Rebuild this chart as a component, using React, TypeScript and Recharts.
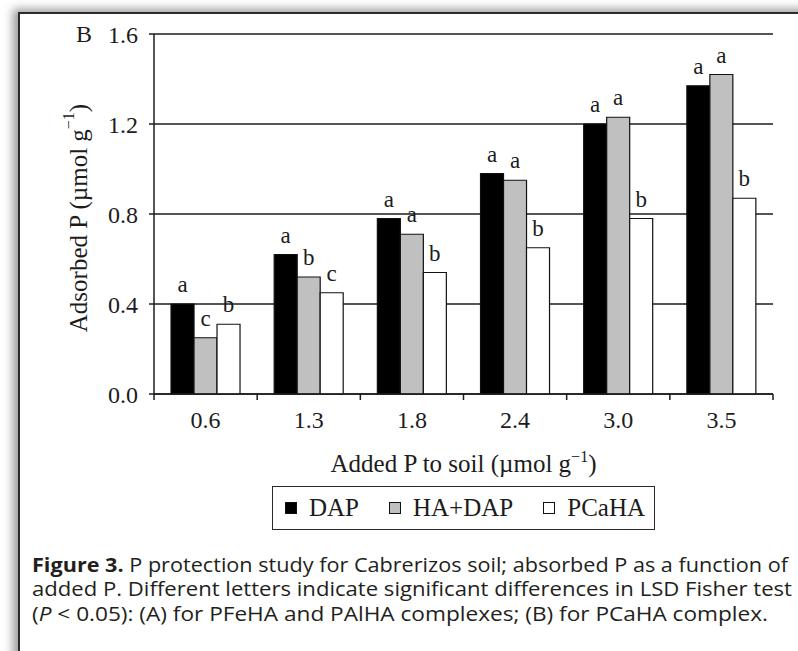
import { Bar, BarChart, CartesianGrid, Label, LabelList, Legend, XAxis, YAxis } from 'recharts';

const categories = ['0.6', '1.3', '1.8', '2.4', '3.0', '3.5'];
const dapValues = [0.4, 0.62, 0.78, 0.98, 1.2, 1.37];
const haDapValues = [0.25, 0.52, 0.71, 0.95, 1.23, 1.42];
const pcahaValues = [0.31, 0.45, 0.54, 0.65, 0.78, 0.87];
const dapLetters = ['a', 'a', 'a', 'a', 'a', 'a'];
const haDapLetters = ['c', 'b', 'a', 'a', 'a', 'a'];
const pcahaLetters = ['b', 'c', 'b', 'b', 'b', 'b'];
const yTicks = [0, 0.4, 0.8, 1.2, 1.6];

const data = categories.map((added, i) => ({
  added,
  dap: dapValues[i],
  haDap: haDapValues[i],
  pcaha: pcahaValues[i],
  dapLetter: dapLetters[i],
  haDapLetter: haDapLetters[i],
  pcahaLetter: pcahaLetters[i],
}));

const SERIF = '"Liberation Serif", "Times New Roman", serif';
const INK = '#1c1c1c';

// category label in the middle, tick marks on the group edges
function CategoryTick(props: any) {
  const { x, y, payload, index, visibleTicksCount, width } = props;
  const half = payload?.offset || width / visibleTicksCount / 2;
  const last = index === visibleTicksCount - 1;
  return (
    <g>
      <line x1={x - half} x2={x - half} y1={y} y2={y + 6} stroke={INK} strokeWidth={1.5} />
      {last && <line x1={x + half} x2={x + half} y1={y} y2={y + 6} stroke={INK} strokeWidth={1.5} />}
      <text x={x} y={y + 17} dy="0.71em" textAnchor="middle" fontFamily={SERIF} fontSize={24} fill={INK}>
        {payload.value}
      </text>
    </g>
  );
}

function YTitle({ viewBox }: any) {
  const cx = viewBox.x - 16;
  const cy = viewBox.y + viewBox.height / 2 + 4;
  return (
    <text
      x={cx}
      y={cy}
      transform={`rotate(-90, ${cx}, ${cy})`}
      textAnchor="middle"
      dominantBaseline="central"
      fontFamily={SERIF}
      fontSize={25}
      fill={INK}
    >
      Adsorbed P (µmol g
      <tspan dy={-10} fontSize={16}>−1</tspan>
      <tspan dy={10}>)</tspan>
    </text>
  );
}

function XTitle({ viewBox }: any) {
  return (
    <text
      x={viewBox.x + viewBox.width / 2}
      y={viewBox.y + 78}
      textAnchor="middle"
      fontFamily={SERIF}
      fontSize={25}
      fill={INK}
    >
      Added P to soil (µmol g
      <tspan dy={-10} fontSize={16}>−1</tspan>
      <tspan dy={10}>)</tspan>
    </text>
  );
}

function LegendBox({ payload }: any) {
  return (
    <div
      style={{
        boxSizing: 'border-box',
        width: 383,
        height: 44,
        border: '1.5px solid #2a2a2a',
        display: 'flex',
        alignItems: 'center',
        paddingLeft: 12,
        fontFamily: SERIF,
        fontSize: 25,
        color: INK,
        background: '#fff',
      }}
    >
      {(payload || []).map((entry: any) => (
        <span key={entry.value} style={{ display: 'flex', alignItems: 'center', marginRight: 30 }}>
          <span
            style={{
              display: 'inline-block',
              width: 10,
              height: 10,
              border: '1.5px solid #111',
              background: entry.payload?.fill ?? entry.color,
              marginRight: 12,
            }}
          />
          {entry.value}
        </span>
      ))}
    </div>
  );
}

export default function App() {
  return (
    <div
      style={{
        position: 'absolute',
        left: 0,
        top: 0,
        width: 798,
        height: 651,
        overflow: 'hidden',
        background: '#fff',
      }}
    >
      <div
        style={{
          position: 'absolute',
          left: 18,
          top: 12,
          width: 820,
          height: 700,
          border: '2px solid #2b2b2b',
          boxShadow: '-5px -3px 9px rgba(0,0,0,0.4)',
          background: '#fff',
        }}
      />
      <div
        style={{
          position: 'absolute',
          left: 76,
          top: 20,
          fontFamily: SERIF,
          fontSize: 24,
          lineHeight: '28px',
          color: INK,
        }}
      >
        B
      </div>
      <div style={{ position: 'absolute', left: 0, top: 0 }}>
        <BarChart
          width={798}
          height={540}
          data={data}
          margin={{ top: 34, right: 25, bottom: 116, left: 94 }}
          barCategoryGap="16.5%"
          barGap={0}
        >
          <CartesianGrid horizontal vertical={false} stroke={INK} strokeWidth={1.3} />
          <XAxis
            dataKey="added"
            height={30}
            interval={0}
            axisLine={{ stroke: INK, strokeWidth: 1.5 }}
            tickLine={false}
            tickSize={0}
            tickMargin={0}
            tick={<CategoryTick />}
          >
            <Label content={<XTitle />} />
          </XAxis>
          <YAxis
            domain={[0, 1.6]}
            ticks={yTicks}
            interval={0}
            width={60}
            axisLine={{ stroke: INK, strokeWidth: 1.5 }}
            tickLine={{ stroke: INK, strokeWidth: 1.5 }}
            tickSize={5}
            tickMargin={11}
            tickFormatter={(v: number) => v.toFixed(1)}
            tick={{ fill: INK, fontFamily: SERIF, fontSize: 24 }}
          >
            <Label content={<YTitle />} />
          </YAxis>
          <YAxis
            yAxisId="frame"
            orientation="right"
            domain={[0, 1.6]}
            width={0}
            tick={false}
            tickLine={false}
            axisLine={{ stroke: INK, strokeWidth: 1.5 }}
          />
          <Legend
            layout="vertical"
            verticalAlign="middle"
            align="center"
            content={<LegendBox />}
            wrapperStyle={{ position: 'absolute', left: 272, top: 486, width: 383, height: 44 }}
          />
          <Bar dataKey="dap" name="DAP" fill="#000" stroke="#111" strokeWidth={1.2} isAnimationActive={false}>
            <LabelList dataKey="dapLetter" position="top" offset={12} fill={INK} fontFamily={SERIF} fontSize={23} />
          </Bar>
          <Bar dataKey="haDap" name="HA+DAP" fill="#c0c0c0" stroke="#111" strokeWidth={1.2} isAnimationActive={false}>
            <LabelList dataKey="haDapLetter" position="top" offset={12} fill={INK} fontFamily={SERIF} fontSize={23} />
          </Bar>
          <Bar dataKey="pcaha" name="PCaHA" fill="#fff" stroke="#111" strokeWidth={1.2} isAnimationActive={false}>
            <LabelList dataKey="pcahaLetter" position="top" offset={12} fill={INK} fontFamily={SERIF} fontSize={23} />
          </Bar>
        </BarChart>
      </div>
      <svg
        width={798}
        height={100}
        style={{ position: 'absolute', left: 0, top: 545 }}
        fontFamily='"Open Sans", sans-serif'
        fontSize={20}
        fill="#231f20"
      >
        <text x={32} y={26.5} textLength={756} lengthAdjust="spacingAndGlyphs">
          <tspan fontWeight="bold">Figure 3.</tspan> P protection study for Cabrerizos soil; absorbed P as a function of
        </text>
        <text x={32} y={51} textLength={760} lengthAdjust="spacingAndGlyphs">
          added P. Different letters indicate significant differences in LSD Fisher test
        </text>
        <text x={32} y={75.5} textLength={736} lengthAdjust="spacingAndGlyphs">
          (<tspan fontStyle="italic">P</tspan> &lt; 0.05): (A) for PFeHA and PAlHA complexes; (B) for PCaHA complex.
        </text>
      </svg>
    </div>
  );
}
